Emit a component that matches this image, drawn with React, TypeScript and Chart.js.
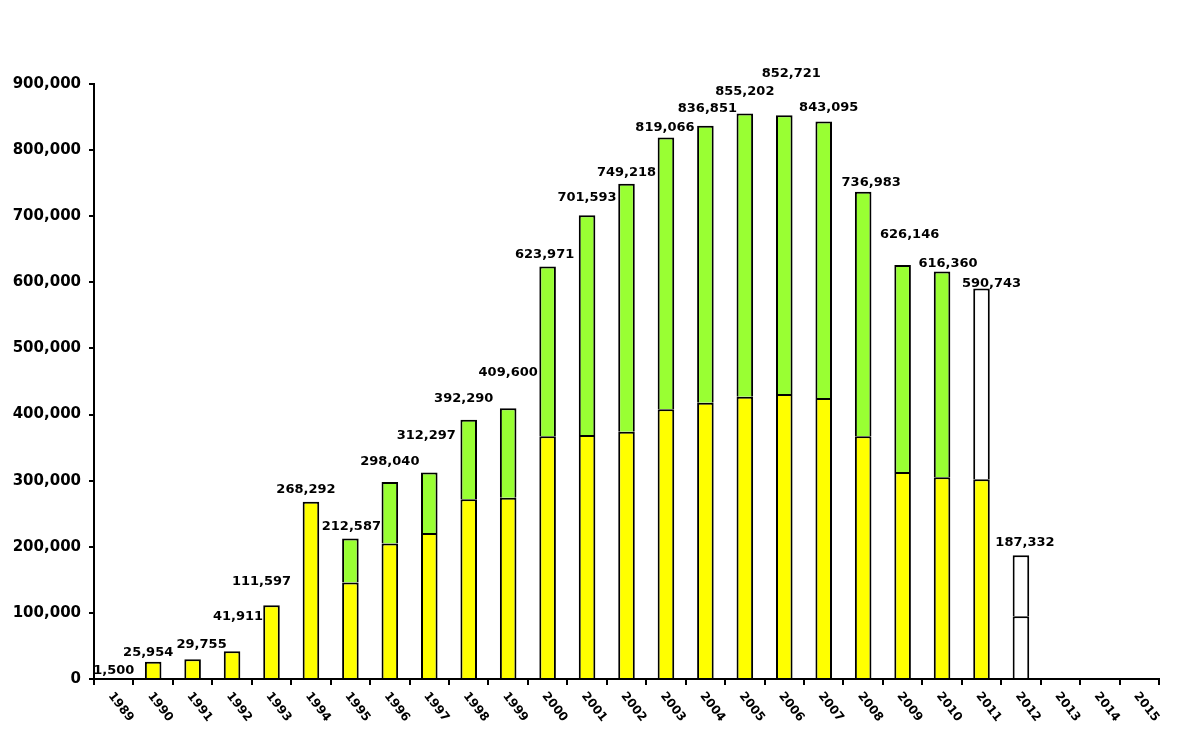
import React, { useEffect, useRef } from "react";
import { Chart, registerables } from "chart.js";

Chart.register(...registerables);

const years = [
  "1989", "1990", "1991", "1992", "1993", "1994", "1995", "1996", "1997",
  "1998", "1999", "2000", "2001", "2002", "2003", "2004", "2005", "2006",
  "2007", "2008", "2009", "2010", "2011", "2012", "2013", "2014", "2015",
];

const totals: (number | null)[] = [
  1500, 25954, 29755, 41911, 111597, 268292, 212587, 298040, 312297,
  392290, 409600, 623971, 701593, 749218, 819066, 836851, 855202, 852721,
  843095, 736983, 626146, 616360, 590743, 187332, null, null, null,
];

const lowerPart: (number | null)[] = [
  1500, 25954, 29755, 41911, 111597, 268292, 146000, 205000, 221000,
  272000, 274000, 367000, 369000, 374000, 408000, 418000, 427000, 431000,
  425000, 367000, 313000, 305000, 302000, 95000, null, null, null,
];

const yTicks = [0, 100000, 200000, 300000, 400000, 500000, 600000, 700000, 800000, 900000];

// years whose segments are drawn as open (estimated) boxes
const openLower = ["2012"];
const openUpper = ["2011", "2012"];

// label nudges [dx, lift] in px (style only)
const labelNudge: [number, number][] = [
  [0, 7], [-5, 9], [9, 15], [6, 35], [-10, 24], [-5, 12], [1, 12], [0, 20],
  [-3, 37], [-5, 21], [0, 36], [-3, 12], [0, 18], [0, 11], [-1, 10], [2, 17],
  [0, 22], [7, 42], [5, 14], [8, 9], [7, 30], [6, 8], [10, 5], [4, 13],
  [0, 0], [0, 0], [0, 0],
];

const YELLOW = "#FFFF00";
const GREEN = "#99FF33";
const WHITE = "#FFFFFF";
const FONT = '"DejaVu Sans", "Liberation Sans", Arial, sans-serif';

const fmt = (v: number) => v.toLocaleString("en-US");

const labelPlugin = {
  id: "valueLabels",
  afterDraw(chart: any) {
    const ctx = chart.ctx as CanvasRenderingContext2D;
    const xs = chart.scales.x;
    const ys = chart.scales.y;
    ctx.save();
    ctx.fillStyle = "#000";
    ctx.textAlign = "center";
    ctx.textBaseline = "middle";
    ctx.font = `bold 13px ${FONT}`;
    totals.forEach((t, i) => {
      if (t == null) return;
      const [dx, lift] = labelNudge[i];
      const px = xs.getPixelForValue(i) + dx;
      const py = ys.getPixelForValue(t) - lift;
      ctx.fillText(fmt(t), px, py);
    });
    ctx.font = `bold 12px ${FONT}`;
    years.forEach((yr, i) => {
      const px = xs.getPixelForValue(i) + 7;
      const py = ys.bottom + 28;
      ctx.save();
      ctx.translate(px, py);
      ctx.rotate((52 * Math.PI) / 180);
      ctx.fillText(yr, 0, 0);
      ctx.restore();
    });
    ctx.restore();
  },
};

export default function App() {
  const ref = useRef<HTMLCanvasElement | null>(null);

  useEffect(() => {
    if (!ref.current) return;
    const upperPart = totals.map((t, i) =>
      t == null || lowerPart[i] == null || t - (lowerPart[i] as number) <= 0
        ? null
        : t - (lowerPart[i] as number)
    );
    const chart = new Chart(ref.current, {
      type: "bar",
      data: {
        labels: years,
        datasets: [
          {
            label: "lower",
            data: lowerPart,
            backgroundColor: years.map((y) => (openLower.includes(y) ? WHITE : YELLOW)),
            borderColor: "#000",
            borderWidth: 2,
            categoryPercentage: 1,
            barPercentage: 0.42,
          },
          {
            label: "upper",
            data: upperPart,
            backgroundColor: years.map((y) => (openUpper.includes(y) ? WHITE : GREEN)),
            borderColor: "#000",
            borderWidth: 2,
            categoryPercentage: 1,
            barPercentage: 0.42,
          },
        ],
      },
      options: {
        animation: false,
        responsive: false,
        devicePixelRatio: 1,
        events: [],
        layout: { padding: { left: 0, top: 84, right: 41, bottom: 60 } },
        plugins: {
          legend: { display: false },
          tooltip: { enabled: false },
          title: { display: false },
        },
        scales: {
          x: {
            stacked: true,
            offset: true,
            border: { display: true, color: "#000", width: 2 },
            grid: {
              offset: true,
              display: true,
              drawOnChartArea: false,
              drawTicks: true,
              tickLength: 6,
              color: "#000",
              lineWidth: 2,
            },
            ticks: { display: false },
          },
          y: {
            stacked: true,
            min: 0,
            max: 900000,
            afterBuildTicks: (s: any) => {
              s.ticks = yTicks.map((v) => ({ value: v }));
            },
            afterFit: (s: any) => {
              s.width = 94;
            },
            border: { display: true, color: "#000", width: 2 },
            grid: {
              display: true,
              drawOnChartArea: false,
              drawTicks: true,
              tickLength: 5,
              color: "#000",
              lineWidth: 2,
            },
            ticks: {
              padding: 8,
              color: "#000",
              font: { family: FONT, size: 15, weight: "bold" },
              callback: (v: any) => fmt(Number(v)),
            },
          },
        },
      },
      plugins: [labelPlugin],
    });
    return () => chart.destroy();
  }, []);

  return (
    <div style={{ position: "absolute", left: 0, top: 0, width: 1200, height: 745, background: "#fff" }}>
      <canvas ref={ref} width={1200} height={745} />
    </div>
  );
}
